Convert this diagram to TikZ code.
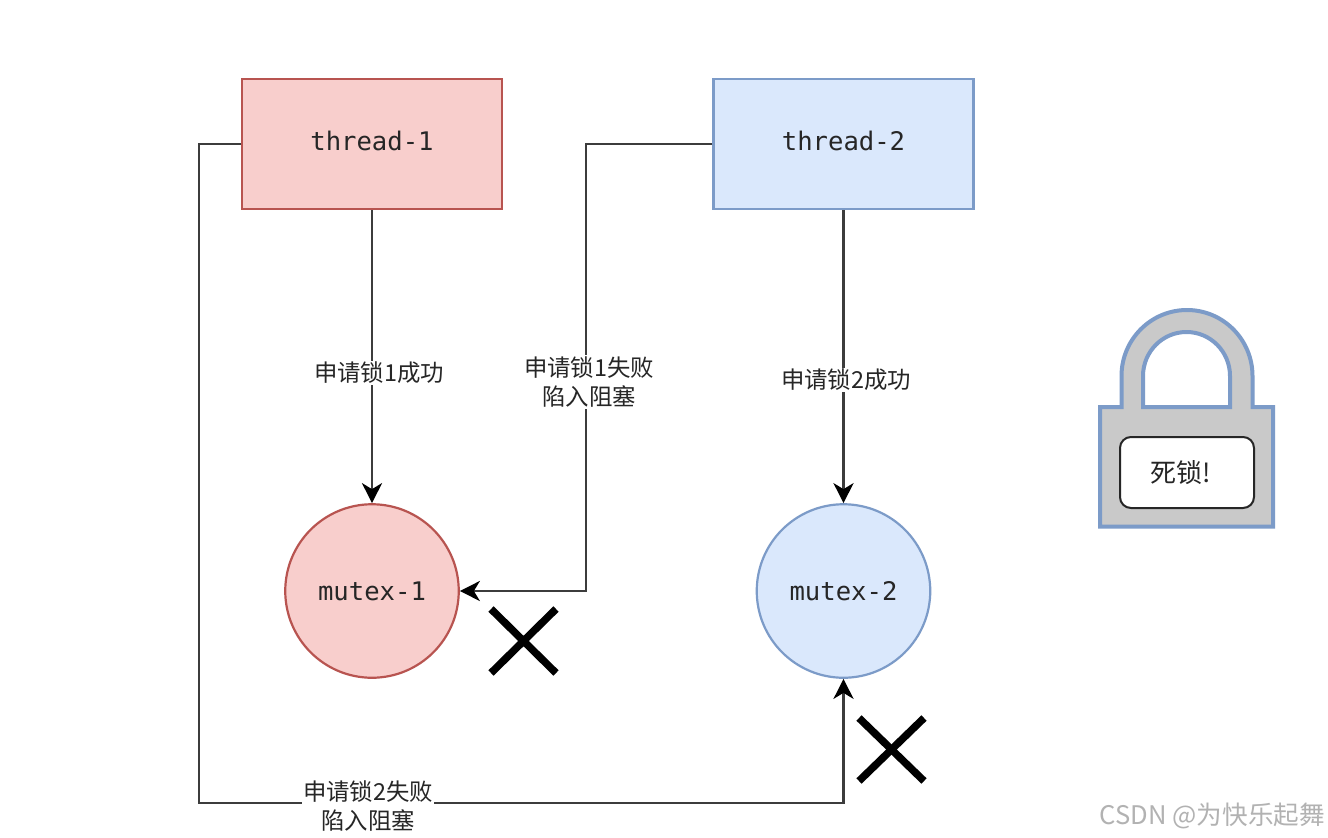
\documentclass[tikz,border=0pt]{standalone}
\usepackage{fontspec}
\setmainfont{Noto Sans CJK SC}
\newfontfamily\codefont{DejaVu Sans Mono}
\usetikzlibrary{arrows.meta}
\definecolor{redfill}{HTML}{F8CECC}
\definecolor{redline}{HTML}{B85450}
\definecolor{bluefill}{HTML}{DAE8FC}
\definecolor{blueline}{HTML}{7C9BC8}
\definecolor{linegray}{HTML}{3C3C3C}
\tikzset{
  x=1pt,y=-1pt,
  threadbox/.style={draw,line width=2.2pt,minimum width=260pt,minimum height=130pt,inner sep=0pt,text=black!85,font=\codefont\fontsize{25.6}{30}\selectfont},
  mutexnode/.style={circle,draw,line width=2.2pt,minimum size=173.5pt,inner sep=0pt,text=black!85,font=\codefont\fontsize{25.6}{30}\selectfont},
  conn/.style={draw=linegray,line width=2.8pt,-{Stealth[length=20pt,width=20pt,inset=6pt,color=black]}},
  lbl/.style={fill=white,inner sep=1pt,align=center,text=black!85,font=\fontsize{23.4}{29.5}\selectfont},
  crossmark/.style={draw=black,line width=7.5pt},
  lockpart/.style={draw=blueline,line width=4pt,fill=black!21,line join=miter},
}
\begin{document}
\begin{tikzpicture}
\useasboundingbox (0,0) rectangle (1328,838);
\fill[white] (0,0) rectangle (1328,838);

\node[threadbox,draw=redline,fill=redfill,text height=17pt] (t1) at (372,144) {\raisebox{2pt}{thread-1}};
\node[threadbox,draw=blueline,fill=bluefill,text height=17pt] (t2) at (843.5,144) {\raisebox{2pt}{thread-2}};
\node[mutexnode,draw=redline,fill=redfill] (m1) at (372,591) {mutex-1};
\node[mutexnode,draw=blueline,fill=bluefill] (m2) at (843.5,591) {mutex-2};

\coordinate (c1) at (586,144);
\coordinate (c2) at (586,591);
\coordinate (c3) at (199,144);
\coordinate (c4) at (199,803);
\coordinate (c5) at (843.5,803);

\draw[conn] (t1) -- (m1);
\node[lbl] (l1) at (379,373) {申请锁1成功};
\draw[conn] (t2) -- (m2);
\node[lbl] (l2) at (846,380) {申请锁2成功};
\draw[conn] (t2.west) -- (c1) -- (c2) -- (m1.east);
\node[lbl] (l3) at (589,382) {申请锁1失败\\陷入阻塞};
\draw[conn] (t1.west) -- (c3) -- (c4) -- (c5) -- (m2.south);
\node[lbl] (l4) at (368,806) {申请锁2失败\\陷入阻塞};

% crosses
\draw[crossmark] (491,609) -- (556,673);
\draw[crossmark] (556,609) -- (491,673);
\draw[crossmark] (859,718) -- (924,781);
\draw[crossmark] (924,718) -- (859,781);

% padlock
\draw[lockpart] (1100,407) -- (1121.5,407) -- (1121.5,376)
  arc[start angle=180,end angle=0,x radius=65.5,y radius=-66] -- (1252.5,407)
  -- (1273,407) -- (1273,526.5) -- (1100,526.5) -- cycle
  (1143,407) -- (1230,407) -- (1230,376)
  arc[start angle=0,end angle=180,x radius=43.5,y radius=-44] -- cycle;
\node[draw=black!85,line width=2pt,fill=white,rounded corners=11pt,minimum width=134pt,minimum height=71pt,inner sep=0pt,text=black!85,font=\fontsize{26}{30}\selectfont] (deadlock) at (1187,472.5) {\hspace*{-12pt}死锁!};

\node[anchor=east,text=black!30,inner sep=0pt,font=\fontsize{25.6}{30}\selectfont] (wm) at (1325,816) {CSDN @为快乐起舞};
\end{tikzpicture}
\end{document}
